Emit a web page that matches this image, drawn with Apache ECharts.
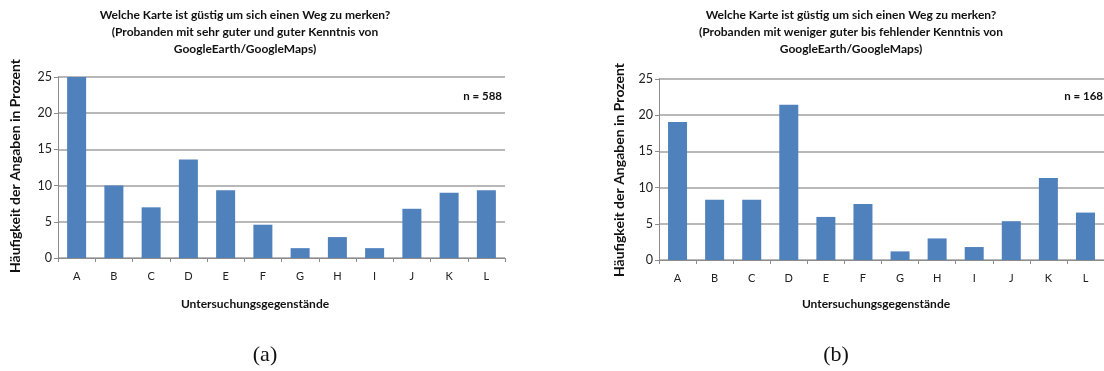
<!DOCTYPE html>
<html><head><meta charset="utf-8">
<script src="https://cdn.jsdelivr.net/npm/echarts@6/dist/echarts.min.js"></script>
<style>html,body{margin:0;padding:0;background:#fff}#c{width:1104px;height:371px}</style>
</head><body><div id="c"></div>
<script>
const categories = ['A','B','C','D','E','F','G','H','I','J','K','L'];
const valuesA = [25.0, 10.0, 7.0, 13.6, 9.35, 4.6, 1.36, 2.89, 1.36, 6.8, 9.0, 9.35];
const valuesB = [19.05, 8.33, 8.33, 21.43, 5.95, 7.74, 1.19, 2.98, 1.79, 5.36, 11.31, 6.55];
const yTicks = [0, 5, 10, 15, 20, 25];
const titleA = 'Welche Karte ist güstig um sich einen Weg zu merken?\n(Probanden mit sehr guter und guter Kenntnis von\nGoogleEarth/GoogleMaps)';
const titleB = 'Welche Karte ist güstig um sich einen Weg zu merken?\n(Probanden mit weniger guter bis fehlender Kenntnis von\nGoogleEarth/GoogleMaps)';
const yName = 'Häufigkeit der Angaben in Prozent';
const xName = 'Untersuchungsgegenstände';
const nA = 'n = 588', nB = 'n = 168';
const captions = ['(a)', '(b)'];

const F = 'Lato, "Open Sans", sans-serif';
const grids = [
  {left: 58, right: 599, top: 77, height: 181},
  {left: 659, right: 0, top: 79, height: 181}
];
function xAx(i){return {gridIndex:i,type:'category',data:categories,
  axisLine:{lineStyle:{color:'#8c8c8c',width:1}},
  axisTick:{show:true,length:4,lineStyle:{color:'#8c8c8c'}},
  axisLabel:{color:'#222',fontFamily:F,fontSize:11,margin:13}};}
function yAx(i){return {gridIndex:i,type:'value',min:0,max:25,interval:5,
  axisLine:{show:true,lineStyle:{color:'#8c8c8c'}},
  axisTick:{show:true,length:4,lineStyle:{color:'#8c8c8c'}},
  axisLabel:{color:'#222',fontFamily:F,fontSize:12.5,margin:6},
  splitLine:{lineStyle:{color:'#a0a0a0',width:1.5}}};}
const chart = echarts.init(document.getElementById('c'),null,{renderer:'canvas'});
const tStyle = {fontFamily:F,fontSize:12,fontWeight:'bold',fill:'#111',lineHeight:17};
const yStyle = {text:yName,textAlign:'center',textVerticalAlign:'middle',fontFamily:F,fontSize:14,fontWeight:'bold',fill:'#111'};
chart.setOption({
  animation:false,
  grid:grids,
  xAxis:[xAx(0),xAx(1)],
  yAxis:[yAx(0),yAx(1)],
  series:[
    {type:'bar',xAxisIndex:0,yAxisIndex:0,data:valuesA,barWidth:19,itemStyle:{color:'#4f81bd'}},
    {type:'bar',xAxisIndex:1,yAxisIndex:1,data:valuesB,barWidth:19,itemStyle:{color:'#4f81bd'}}
  ],
  graphic:[
    {type:'text',x:245,y:7,style:Object.assign({text:titleA,textAlign:'center'},tStyle)},
    {type:'text',x:851,y:7,style:Object.assign({text:titleB,textAlign:'center'},tStyle)},
    {type:'text',x:15,y:166,rotation:Math.PI/2,style:Object.assign({},yStyle)},
    {type:'text',x:619,y:170,rotation:Math.PI/2,style:Object.assign({},yStyle)},
    {type:'text',x:255,y:304,style:{text:xName,textAlign:'center',textVerticalAlign:'middle',fontFamily:F,fontSize:12,fontWeight:'bold',fill:'#111'}},
    {type:'text',x:876,y:304,style:{text:xName,textAlign:'center',textVerticalAlign:'middle',fontFamily:F,fontSize:12,fontWeight:'bold',fill:'#111'}},
    {type:'text',x:502,y:96,style:{text:nA,textAlign:'right',textVerticalAlign:'middle',fontFamily:F,fontSize:11.5,fontWeight:'bold',fill:'#111'}},
    {type:'text',x:1103,y:96,style:{text:nB,textAlign:'right',textVerticalAlign:'middle',fontFamily:F,fontSize:11.5,fontWeight:'bold',fill:'#111'}},
    {type:'text',x:265,y:355,style:{text:captions[0],textAlign:'center',textVerticalAlign:'middle',fontFamily:'"Liberation Serif","DejaVu Serif",serif',fontSize:22,fill:'#111'}},
    {type:'text',x:836,y:355,style:{text:captions[1],textAlign:'center',textVerticalAlign:'middle',fontFamily:'"Liberation Serif","DejaVu Serif",serif',fontSize:22,fill:'#111'}}
  ]
});
</script></body></html>
